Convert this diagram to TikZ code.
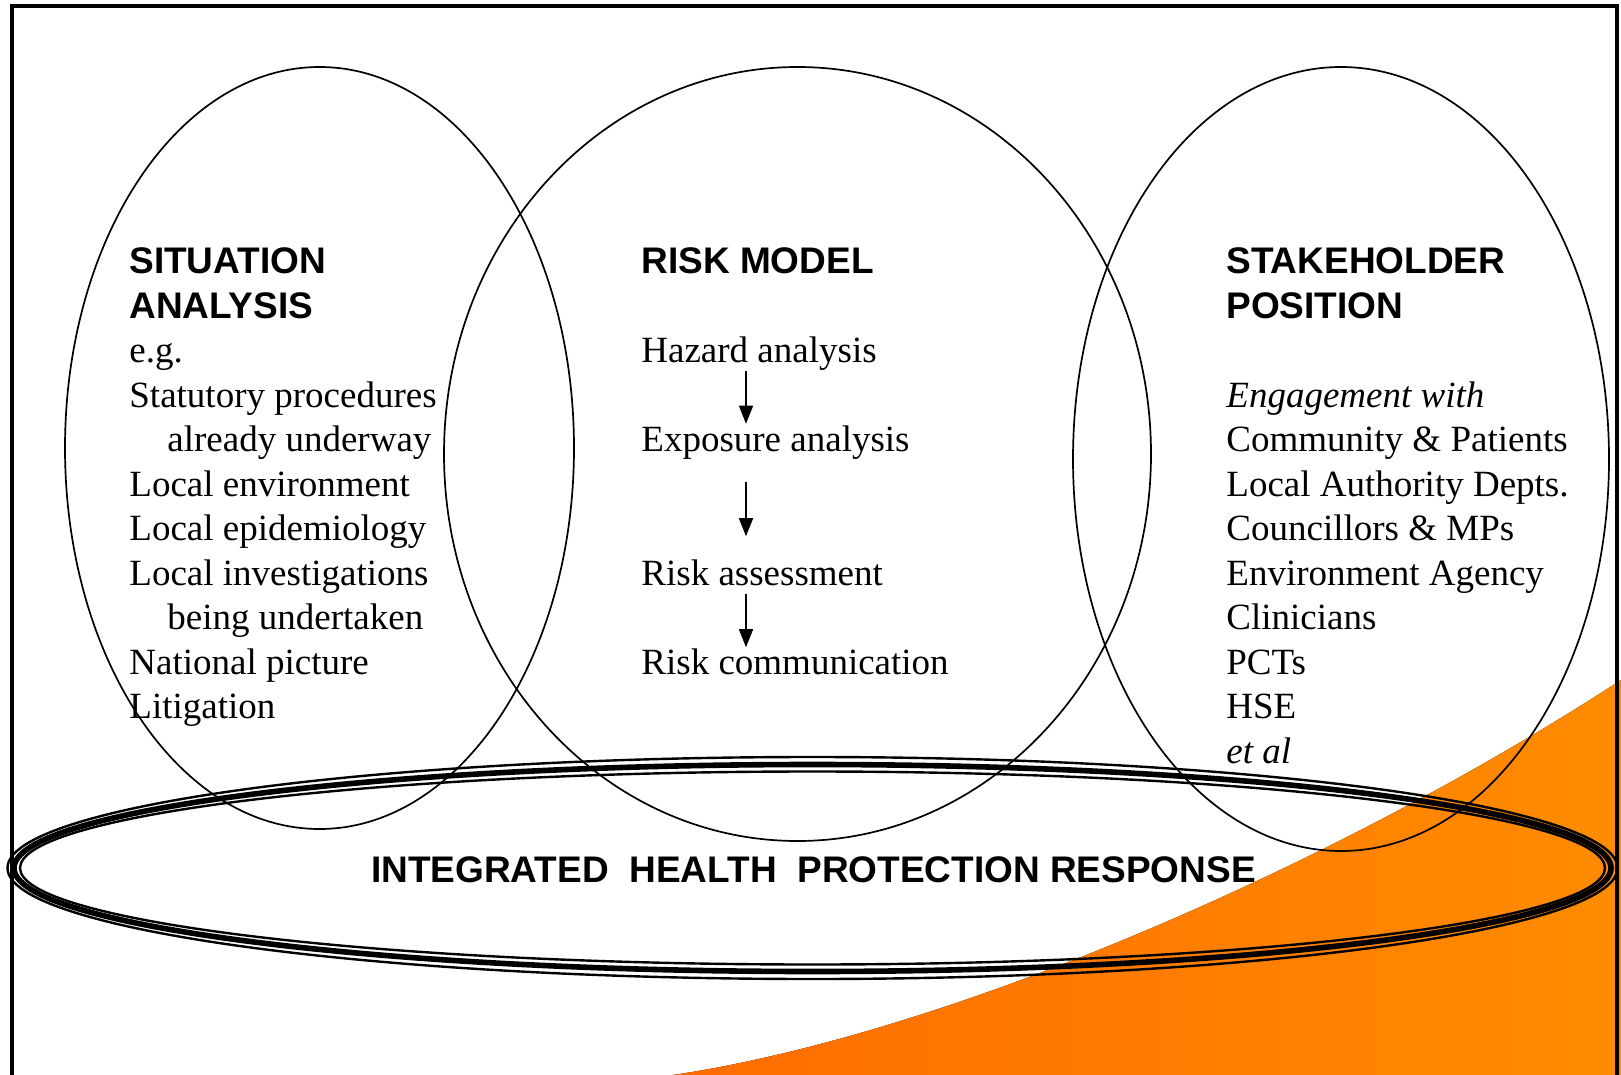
\documentclass[tikz,border=0pt]{standalone}
\usepackage{fontspec}
\setmainfont{Liberation Serif}
\setsansfont{Liberation Sans}
\usepackage{tikz}
\usetikzlibrary{arrows.meta}
\definecolor{orangeL}{RGB}{255,108,0}
\definecolor{orangeR}{RGB}{255,140,0}
\tikzstyle{txt} = [anchor=base west, inner sep=0pt, font=\fontsize{18.5}{22.3}\selectfont]
\tikzstyle{head} = [anchor=base west, inner sep=0pt, font=\sffamily\bfseries\fontsize{18.5}{22.3}\selectfont]
\tikzstyle{arrow} = [line width=0.8pt, -{Triangle[length=9pt, width=7pt]}]
\tikzstyle{ring} = [line width=0.85pt]
\tikzstyle{frame} = [line width=1.6pt]

\begin{document}
\begin{tikzpicture}[x=0.5pt, y=-0.5pt]
            \useasboundingbox (0,0) rectangle (1621,1075);
            \fill[left color=orangeL, right color=orangeR] (673,1075) .. controls (953,1033) and (1341,862) .. (1621,680) -- (1621,1075) -- cycle;
            \draw[frame] (12,1075) -- (12,6) -- (1617,6) -- (1617,1075);

            \draw[ring] (319.5,448) ellipse [x radius=254.5, y radius=381];
            \draw[ring] (797.5,454) ellipse [x radius=353.5, y radius=387];
            \draw[ring] (1341,459) ellipse [x radius=268, y radius=392];

            % triple ring
            \draw[line width=1.2pt] (812.5,868) ellipse [x radius=805, y radius=111];
            \draw[line width=2.8pt] (812.5,868) ellipse [x radius=798.5, y radius=103.5];
            \draw[line width=1.2pt] (812.5,868) ellipse [x radius=792.5, y radius=96.5];

            \node[head] (sit1) at (129,273.8) {SITUATION};
            \node[head] (sit2) at (129,318.3) {ANALYSIS};
            \node[txt] (sit3) at (129,362.8) {e.g.};
            \node[txt] (sit4) at (129,407.3) {Statutory procedures};
            \node[txt] (sit5) at (167,451.8) {already underway};
            \node[txt] (sit6) at (129,496.3) {Local environment};
            \node[txt] (sit7) at (129,540.8) {Local epidemiology};
            \node[txt] (sit8) at (129,585.3) {Local investigations};
            \node[txt] (sit9) at (167,629.8) {being undertaken};
            \node[txt] (sit10) at (129,674.3) {National picture};
            \node[txt] (sit11) at (129,718.8) {Litigation};

            \node[head] (risk) at (641,273.8) {RISK MODEL};
            \node[txt] (hazard) at (641,362.8) {Hazard analysis};
            \node[txt] (exposure) at (641,451.8) {Exposure analysis};
            \node[txt] (assess) at (641,585.3) {Risk assessment};
            \node[txt] (comm) at (641,674.3) {Risk communication};

            \coordinate (ax) at (746,0);
            \draw[arrow, shorten >=1pt] (hazard.south -| ax) -- (exposure.north -| ax);
            \draw[arrow, shorten <=11pt, shorten >=11.5pt] (exposure.south -| ax) -- (assess.north -| ax);
            \draw[arrow, shorten <=4pt, shorten >=0.5pt] (assess.south -| ax) -- (comm.north -| ax);

            \node[head] (stake1) at (1226,273.8) {STAKEHOLDER};
            \node[head] (stake2) at (1226,318.3) {POSITION};
            \node[txt] (stake3) at (1226,407.3) {\itshape Engagement with};
            \node[txt] (stake4) at (1226,451.8) {Community \& Patients};
            \node[txt] (stake5) at (1226,496.3) {Local Authority Depts.};
            \node[txt] (stake6) at (1226,540.8) {Councillors \& MPs};
            \node[txt] (stake7) at (1226,585.3) {Environment Agency};
            \node[txt] (stake8) at (1226,629.8) {Clinicians};
            \node[txt] (stake9) at (1226,674.3) {PCTs};
            \node[txt] (stake10) at (1226,718.8) {HSE};
            \node[txt] (stake11) at (1226,763.3) {\itshape et al};

            \node[head, anchor=base] (ihpr) at (813.5,882) {INTEGRATED\ \ HEALTH\ \ PROTECTION RESPONSE};
            \end{tikzpicture}
\end{document}
